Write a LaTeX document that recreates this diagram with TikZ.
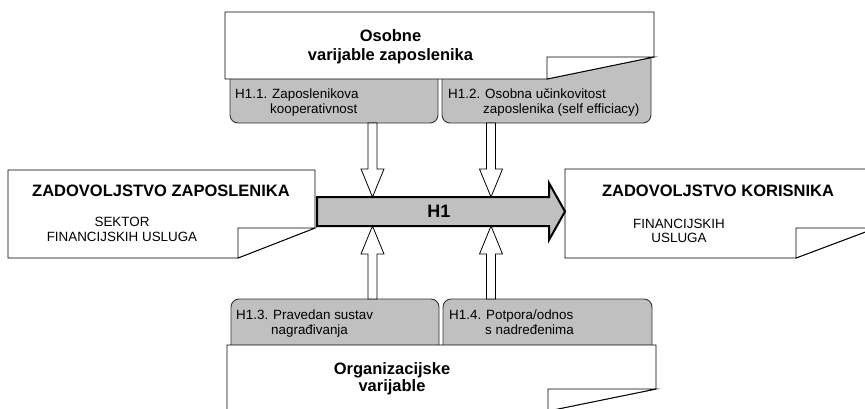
\documentclass[tikz,border=0pt]{standalone}
\usepackage{fontspec}
\setmainfont{Liberation Sans}
\usetikzlibrary{calc}
\definecolor{tabgray}{HTML}{C0C0C0}
\newcommand\hdownarrow[2]{\draw[harrow] let \p1=(#1), \p2=(#2) in
  (\x1-4.5pt,\y1) -- (\x1+4.5pt,\y1) -- (\x1+4.5pt,\y2+28pt) -- (\x1+11.5pt,\y2+28pt)
  -- (\x1,\y2) -- (\x1-11.5pt,\y2+28pt) -- (\x1-4.5pt,\y2+28pt) -- cycle;}
\newcommand\huparrow[2]{\draw[harrow] let \p1=(#1), \p2=(#2) in
  (\x1-4.5pt,\y1) -- (\x1+4.5pt,\y1) -- (\x1+4.5pt,\y2-28pt) -- (\x1+11.5pt,\y2-28pt)
  -- (\x1,\y2) -- (\x1-11.5pt,\y2-28pt) -- (\x1-4.5pt,\y2-28pt) -- cycle;}
\begin{document}
\begin{tikzpicture}[x=1pt,y=-1pt,
  docbox/.style={draw=black, fill=white, line width=0.9pt, line join=miter},
  tab/.style={draw=black!80, fill=tabgray, line width=0.9pt, rounded corners=8pt, inner sep=0pt, minimum height=80pt},
  title/.style={font=\fontsize{16.5}{18}\selectfont\bfseries, inner sep=0pt, anchor=base},
  small/.style={font=\fontsize{13.4}{15}\selectfont, inner sep=0pt, anchor=base west},
  sub/.style={font=\fontsize{13.4}{15}\selectfont, inner sep=0pt, anchor=base},
  harrow/.style={draw=black, fill=white, line width=0.8pt, line join=miter},
  bigarrow/.style={draw=black, fill=tabgray, line width=2pt, line join=miter}]

\useasboundingbox (0,0) rectangle (865,408);
\clip (0,0) rectangle (865,408);

% gray tabs
\node[tab, minimum width=208pt] (t1) at (334,83) {};
\node[tab, minimum width=209pt] (t2) at (546.5,83) {};
\node[tab, minimum width=208pt] (t3) at (335,339) {};
\node[tab, minimum width=209pt] (t4) at (547.5,339) {};

% top box
\draw[docbox] (225,12) -- (654,12) -- (654,57) -- (547,79) -- (225,79) -- cycle;
\draw[docbox] (547,57) -- (654,57) -- (547,79) -- cycle;
\node[title] (top1) at (390.5,41.7) {Osobne};
\node[title] (top2) at (390.5,60) {varijable zaposlenika};

% bottom box
\draw[docbox] (227,345) -- (656,345) -- (656,389) -- (548,411) -- (227,411) -- cycle;
\draw[docbox] (548,389) -- (656,389) -- (548,411) -- cycle;
\node[title] (bot1) at (392,374.3) {Organizacijske};
\node[title] (bot2) at (392,391.7) {varijable};

% left box
\draw[docbox] (8,170) -- (315,170) -- (315,228) -- (238,258) -- (8,258) -- cycle;
\draw[docbox] (238,228) -- (315,228) -- (238,258) -- cycle;
\node[title] (lt) at (161,196.7) {ZADOVOLJSTVO ZAPOSLENIKA};
\node[sub] (ls1) at (122,226.7) {SEKTOR};
\node[sub] (ls2) at (122,241.7) {FINANCIJSKIH USLUGA};

% right box
\draw[docbox] (565,169) -- (876,169) -- (876,228) -- (796,258) -- (565,258) -- cycle;
\draw[docbox] (796,228) -- (876,228) -- (796,258) -- cycle;
\node[title] (rt) at (718,196.7) {ZADOVOLJSTVO KORISNIKA};
\node[sub] (rs1) at (679,228.3) {FINANCIJSKIH};
\node[sub] (rs2) at (679,242.7) {USLUGA};

% tab texts
\node[small] (h11a) at (235,98) {H1.1. Zaposlenikova};
\node[small] (h11b) at (270,113.5) {kooperativnost};
\node[small] (h12a) at (448,98) {H1.2. Osobna učinkovitost};
\node[small] (h12b) at (483,113.5) {zaposlenika (self efficiacy)};
\node[small] (h13a) at (236,319.5) {H1.3. Pravedan sustav};
\node[small] (h13b) at (271,334) {nagrađivanja};
\node[small] (h14a) at (449,319.5) {H1.4. Potpora/odnos};
\node[small] (h14b) at (485,334) {s nadređenima};

% main arrow H1
\coordinate (L) at (315,211.5);
\coordinate (R) at (565,211.5);
\draw[bigarrow] let \p1=(L), \p2=(R) in
  (\x1+2pt,\y1+14.5pt) -- (\x2-16pt,\y1+14.5pt) -- (\x2-16pt,\y1+28.5pt) -- (\x2,\y1)
  -- (\x2-16pt,\y1-28.5pt) -- (\x2-16pt,\y1-14.5pt) -- (\x1+2pt,\y1-14.5pt) -- cycle;
\node[font=\fontsize{18}{18}\selectfont\bfseries, inner sep=0pt] (h1) at (439,211.5) {H1};

% hollow arrows
\coordinate (a1s) at (372.5,123);  \coordinate (a1e) at (372.5,197);
\coordinate (a2s) at (491,123);    \coordinate (a2e) at (491,197);
\coordinate (a3s) at (372.5,299);  \coordinate (a3e) at (372.5,226);
\coordinate (a4s) at (491,299);    \coordinate (a4e) at (491,226);
\hdownarrow{a1s}{a1e}
\hdownarrow{a2s}{a2e}
\huparrow{a3s}{a3e}
\huparrow{a4s}{a4e}
\end{tikzpicture}
\end{document}
